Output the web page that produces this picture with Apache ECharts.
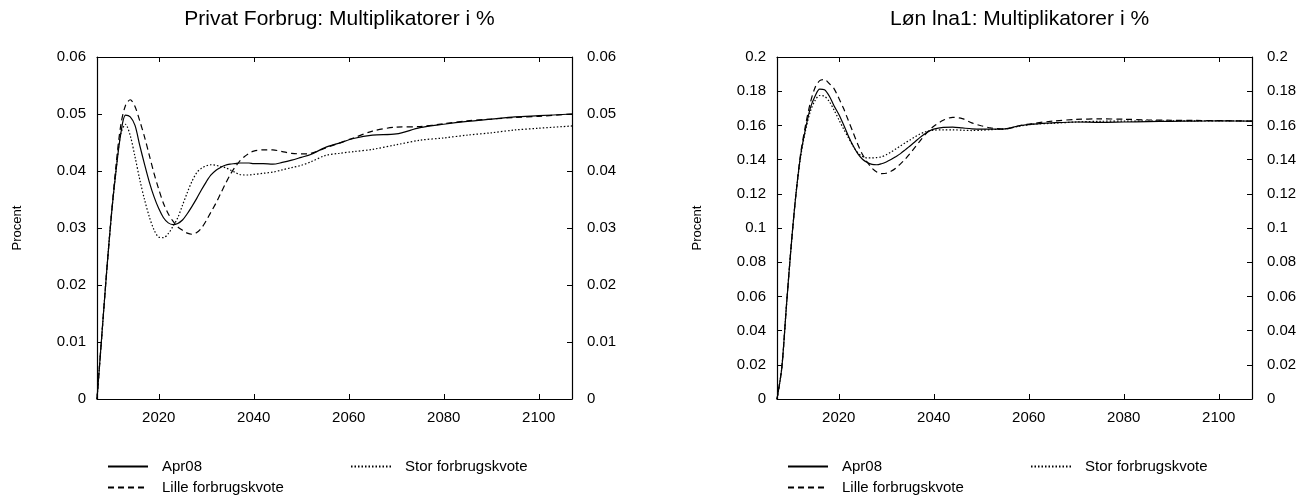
<!DOCTYPE html>
<html>
<head>
<meta charset="utf-8">
<script src="https://cdn.jsdelivr.net/npm/echarts@6/dist/echarts.min.js"></script>
<style>
  html, body { margin: 0; padding: 0; background: #fff; }
  #chart { width: 1310px; height: 496px; }
</style>
</head>
<body>
<div id="chart"></div>
<script>
const years = [
  2007, 2008, 2009, 2010, 2011, 2012, 2013, 2014, 2015, 2016,
  2017, 2018, 2019, 2020, 2021, 2022, 2023, 2024, 2025, 2026,
  2027, 2028, 2029, 2030, 2031, 2032, 2033, 2034, 2035, 2036,
  2037, 2038, 2039, 2040, 2042, 2044, 2046, 2048, 2050, 2052,
  2055, 2058, 2061, 2065, 2070, 2075, 2080, 2085, 2090, 2095,
  2100, 2107
]
const xTicks = [2020, 2040, 2060, 2080, 2100]
const seriesNames = ['Apr08', 'Lille forbrugskvote', 'Stor forbrugskvote']

// Privat Forbrug
const pfApr08 = [
  0, 0.011, 0.022, 0.032, 0.040, 0.0465, 0.0498, 0.0495, 0.0480, 0.0445,
  0.0412, 0.0381, 0.0355, 0.0334, 0.0318, 0.0309, 0.0306, 0.0308, 0.0314, 0.0325,
  0.0338, 0.0352, 0.0367, 0.0381, 0.0393, 0.0401, 0.0406, 0.0410, 0.0412, 0.0413,
  0.0414, 0.0414, 0.0414, 0.0413, 0.0413, 0.0412, 0.0415, 0.0419, 0.0424, 0.0429,
  0.0441, 0.0449, 0.0457, 0.0463, 0.0465, 0.0476, 0.0482, 0.0487, 0.0491, 0.0495,
  0.0497, 0.0500
]
const pfLille = [
  0, 0.011, 0.022, 0.032, 0.041, 0.048, 0.0515, 0.0525, 0.0513, 0.0488,
  0.0460, 0.0428, 0.0396, 0.0368, 0.0343, 0.0325, 0.0312, 0.0302, 0.0296, 0.0291,
  0.0289, 0.0292, 0.0300, 0.0313, 0.0328, 0.0343, 0.0360, 0.0377, 0.0393, 0.0406,
  0.0417, 0.0425, 0.0431, 0.0435, 0.0437, 0.0437, 0.0434, 0.0431, 0.0430, 0.0431,
  0.0440, 0.0449, 0.0458, 0.0470, 0.0477, 0.0478, 0.0483, 0.0488, 0.0491, 0.0494,
  0.0496, 0.0500
]
const pfStor = [
  0, 0.011, 0.022, 0.032, 0.040, 0.0465, 0.0482, 0.0462, 0.0425, 0.0385,
  0.0350, 0.0320, 0.0297, 0.0284, 0.0283, 0.0290, 0.0303, 0.0318, 0.0340, 0.0362,
  0.0382, 0.0397, 0.0405, 0.0409, 0.0411, 0.0410, 0.0408, 0.0406, 0.0402, 0.0398,
  0.0394, 0.0393, 0.0393, 0.0394, 0.0396, 0.0398, 0.0402, 0.0406, 0.0410, 0.0416,
  0.0427, 0.0431, 0.0434, 0.0438, 0.0446, 0.0454, 0.0458, 0.0463, 0.0467, 0.0472,
  0.0475, 0.0479
]

// Løn lna1
const lnApr08 = [
  0, 0.018, 0.055, 0.090, 0.120, 0.143, 0.158, 0.170, 0.177, 0.1812,
  0.1808, 0.1772, 0.1715, 0.1665, 0.1605, 0.1540, 0.1482, 0.1435, 0.1402, 0.1383,
  0.1372, 0.1370, 0.1376, 0.1386, 0.1400, 0.1417, 0.1435, 0.1457, 0.1480, 0.1503,
  0.1527, 0.1548, 0.1566, 0.1578, 0.1588, 0.1590, 0.1585, 0.1580, 0.1578, 0.1578,
  0.1580, 0.1598, 0.1608, 0.1615, 0.1620, 0.1618, 0.1620, 0.1622, 0.1624, 0.1625,
  0.1626, 0.1625
]
const lnLille = [
  0, 0.018, 0.055, 0.090, 0.120, 0.144, 0.160, 0.173, 0.182, 0.1862,
  0.1868, 0.1845, 0.1815, 0.1760, 0.1700, 0.1630, 0.1560, 0.1490, 0.1430, 0.1385,
  0.1350, 0.1328, 0.1318, 0.1320, 0.1332, 0.1350, 0.1375, 0.1403, 0.1435, 0.1470,
  0.1505, 0.1540, 0.1570, 0.1595, 0.1630, 0.1647, 0.1640, 0.1615, 0.1598, 0.1585,
  0.1578, 0.1598, 0.1612, 0.1625, 0.1635, 0.1638, 0.1636, 0.1632, 0.1630, 0.1629,
  0.1628, 0.1625
]
const lnStor = [
  0, 0.018, 0.055, 0.090, 0.120, 0.142, 0.157, 0.168, 0.1745, 0.1775,
  0.1770, 0.1740, 0.1690, 0.1635, 0.1580, 0.1530, 0.1480, 0.1440, 0.1418, 0.1410,
  0.1410, 0.1412, 0.1416, 0.1428, 0.1444, 0.1462, 0.1480, 0.1498, 0.1515, 0.1532,
  0.1548, 0.1560, 0.1568, 0.1572, 0.1574, 0.1574, 0.1572, 0.1570, 0.1572, 0.1575,
  0.1580, 0.1595, 0.1607, 0.1612, 0.1620, 0.1624, 0.1625, 0.1625, 0.1626, 0.1627,
  0.1627, 0.1625
]

const FONT = 'Liberation Sans, Arial, sans-serif'
const pairs = vals => years.map((y, i) => [y, vals[i]])

const panels = [
  { title: 'Privat Forbrug: Multiplikatorer i %', left: 97, max: 0.06, interval: 0.01,
    data: [pfApr08, pfLille, pfStor] },
  { title: 'Løn lna1: Multiplikatorer i %', left: 777, max: 0.2, interval: 0.02,
    data: [lnApr08, lnLille, lnStor] }
]
const PW = 475, PT = 57, PH = 342
const lineTypes = ['solid', [6, 4], [1.5, 2]]
// legend slot per series: [dx from plot left, top]
const legendSlots = [[10, 459], [10, 480], [253, 459]]

const option = {
  animation: false,
  textStyle: { fontFamily: FONT, color: '#000' },
  title: [], grid: [], xAxis: [], yAxis: [], series: [], legend: []
}

panels.forEach((p, k) => {
  option.title.push({
    text: p.title, left: p.left + PW / 2, top: 4, textAlign: 'center',
    textStyle: { fontFamily: FONT, fontSize: 21, fontWeight: 'normal', color: '#000' }
  })
  option.grid.push({ left: p.left, top: PT, width: PW, height: PH })
  const axisLine = { show: true, onZero: false, lineStyle: { color: '#000', width: 1.2 } }
  const tick = { show: true, inside: true, length: 5, lineStyle: { color: '#000' } }
  option.xAxis.push({
    type: 'value', gridIndex: k, position: 'bottom', min: 2007, max: 2107,
    axisLine, splitLine: { show: false },
    axisTick: { ...tick, customValues: xTicks },
    axisLabel: { customValues: xTicks, margin: 11, fontSize: 15, color: '#000', fontFamily: FONT,
      formatter: v => String(v) }
  })
  option.xAxis.push({
    type: 'value', gridIndex: k, position: 'top', min: 2007, max: 2107,
    axisLine, splitLine: { show: false },
    axisTick: { ...tick, customValues: xTicks }, axisLabel: { show: false }
  })
  const yBase = {
    type: 'value', gridIndex: k, min: 0, max: p.max, interval: p.interval,
    axisLine, splitLine: { show: false }, axisTick: tick
  }
  option.yAxis.push({
    ...yBase, position: 'left',
    name: 'Procent', nameLocation: 'middle', nameRotate: 90, nameGap: 73,
    nameTextStyle: { fontSize: 13, color: '#000', fontFamily: FONT },
    axisLabel: { margin: 11, fontSize: 15, color: '#000', fontFamily: FONT }
  })
  option.yAxis.push({
    ...yBase, position: 'right',
    axisLabel: { margin: 15, fontSize: 15, color: '#000', fontFamily: FONT }
  })
  p.data.forEach((vals, j) => {
    option.series.push({
      name: seriesNames[j], type: 'line', xAxisIndex: 2 * k, yAxisIndex: 2 * k,
      data: pairs(vals), smooth: 0.3, symbol: 'none',
      itemStyle: { color: '#000' },
      lineStyle: { color: '#000', width: 1.2, type: lineTypes[j] }
    })
    option.legend.push({
      left: p.left + legendSlots[j][0], top: legendSlots[j][1], padding: 0,
      itemWidth: 40, itemHeight: 14, selectedMode: false,
      itemStyle: { opacity: 0 },
      textStyle: { fontSize: 15, color: '#000', fontFamily: FONT, padding: [0, 0, 0, 9] },
      data: [seriesNames[j]]
    })
  })
})

const chart = echarts.init(document.getElementById('chart'))
chart.setOption(option)
</script>
</body>
</html>
